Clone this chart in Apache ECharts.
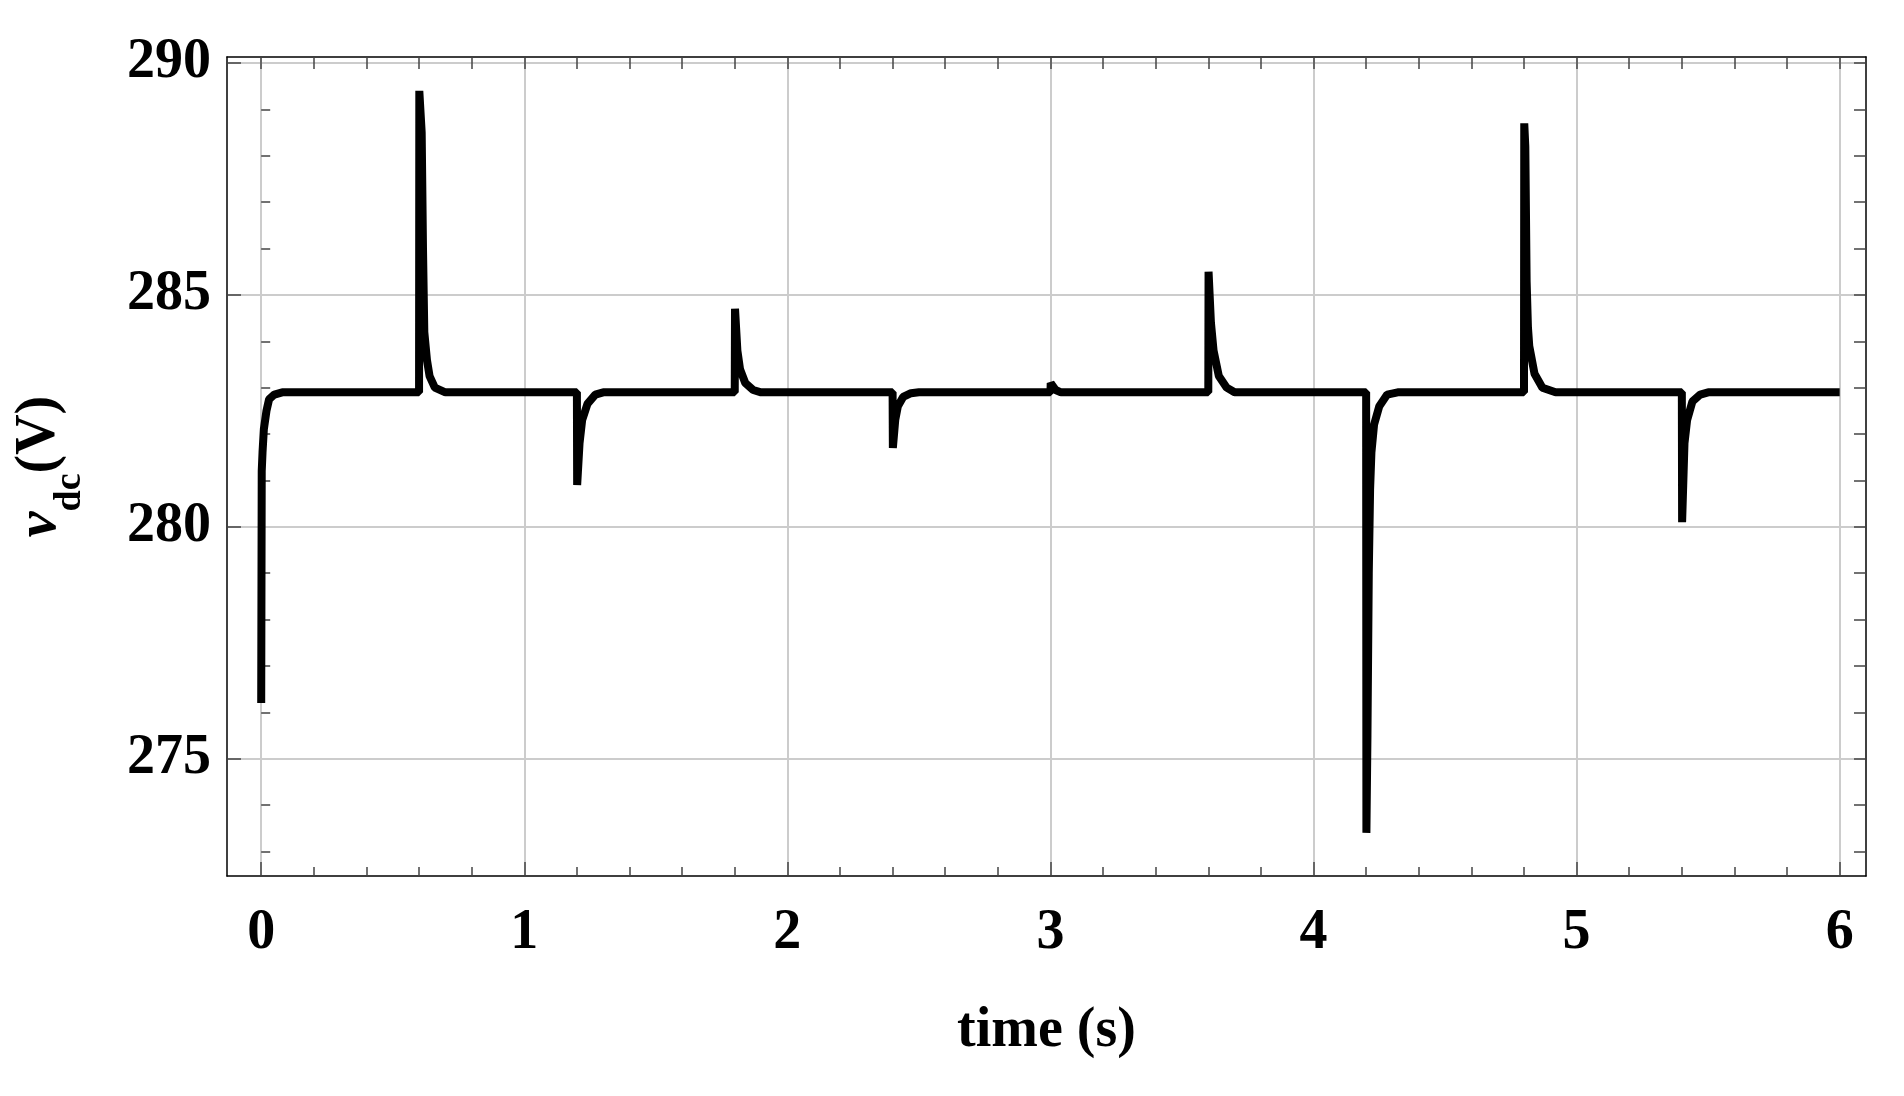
<!DOCTYPE html>
<html><head><meta charset="utf-8">
<script src="https://cdn.jsdelivr.net/npm/echarts@6/dist/echarts.min.js"></script>
<style>html,body{margin:0;padding:0;background:#fff}#c{width:1904px;height:1096px}</style>
</head><body><div id="c"></div>
<script>
const times = [0,0.002,0.005,0.01,0.02,0.03,0.05,0.08,0.6,0.601,0.605,0.61,0.615,0.62,0.63,0.64,0.66,0.7,
 1.2,1.201,1.21,1.22,1.24,1.27,1.3,1.8,1.801,1.81,1.82,1.84,1.87,1.9,
 2.4,2.401,2.41,2.42,2.44,2.47,2.5,3.0,3.001,3.02,3.04,3.6,3.601,3.61,3.62,3.64,3.67,3.7,
 4.2,4.201,4.205,4.21,4.215,4.22,4.23,4.25,4.28,4.32,4.8,4.801,4.805,4.81,4.815,4.82,4.84,4.87,4.92,
 5.4,5.401,5.41,5.42,5.44,5.47,5.5,6.0];
const vdc = [276.2,281.2,281.6,282.1,282.5,282.75,282.85,282.9,282.9,289.4,289.0,288.5,286.0,284.2,283.6,283.25,283.0,282.9,
 282.9,280.9,281.8,282.3,282.65,282.85,282.9,282.9,284.7,283.8,283.4,283.1,282.95,282.9,
 282.9,281.7,282.3,282.6,282.8,282.88,282.9,282.9,283.1,282.95,282.9,282.9,285.5,284.4,283.8,283.25,283.0,282.9,
 282.9,273.4,275.5,279.0,280.8,281.6,282.2,282.6,282.85,282.9,282.9,288.7,288.2,285.3,284.3,283.9,283.3,283.0,282.9,
 282.9,280.1,281.8,282.3,282.7,282.85,282.9,282.9];
const xTicks = [0,1,2,3,4,5,6];
const yTicks = [275,280,285,290];
const xAllTicks=[];for(let i=0;i<=30;i++)xAllTicks.push(+(i*0.2).toFixed(1));
const yAllTicks=[];for(let v=273;v<=290;v++)yAllTicks.push(v);
const data = times.map((t,i)=>[t,vdc[i]]);
const font = '"Liberation Serif","Times New Roman",serif';
const X0=-0.13,X1=6.1,Y0=272.47,Y1=290.13;
const tick=(vals,len)=>({show:true,inside:true,length:len,customValues:vals,lineStyle:{color:'#444',width:1.5}});
const line={show:true,onZero:false,lineStyle:{color:'#000',width:1.5}};
const grid={show:true,lineStyle:{color:'#cccccc',width:2}};
const lab={fontFamily:font,fontWeight:'bold',fontSize:56,color:'#000'};
const minorX=xAllTicks.filter(v=>!xTicks.includes(v));
const minorY=yAllTicks.filter(v=>!yTicks.includes(v));
const chart = echarts.init(document.getElementById('c'));
chart.setOption({
  animation:false,
  grid:{left:227,right:38,top:57,bottom:220},
  xAxis:[
   {type:'value',min:X0,max:X1,axisLine:line,axisTick:tick(xTicks,14),splitLine:grid,
    axisLabel:Object.assign({margin:30,customValues:xTicks,formatter:v=>String(v)},lab),
    name:'time (s)',nameLocation:'middle',nameGap:128,nameTextStyle:lab},
   {type:'value',position:'top',min:X0,max:X1,axisLine:line,axisTick:tick(xAllTicks,12),axisLabel:{show:false},splitLine:{show:false}},
   {type:'value',position:'bottom',min:X0,max:X1,axisLine:{show:false},axisTick:tick(minorX,9),axisLabel:{show:false},splitLine:{show:false}}
  ],
  yAxis:[
   {type:'value',min:Y0,max:Y1,axisLine:line,axisTick:tick(yTicks,14),splitLine:grid,
    axisLabel:Object.assign({margin:16,customValues:yTicks,formatter:v=>String(v)},lab),
    name:'{v|v}{s|dc}{p|(V)}',nameLocation:'middle',nameGap:158,nameRotate:90,
    nameTextStyle:{rich:{
      v:{fontFamily:font,fontWeight:'bold',fontStyle:'italic',fontSize:58,color:'#000'},
      s:{fontFamily:font,fontWeight:'bold',fontSize:38,color:'#000',verticalAlign:'bottom',padding:[0,0,-20,0]},
      p:{fontFamily:font,fontWeight:'bold',fontSize:56,color:'#000'}}}},
   {type:'value',position:'right',min:Y0,max:Y1,axisLine:line,axisTick:tick(yAllTicks,12),axisLabel:{show:false},splitLine:{show:false}},
   {type:'value',position:'left',min:Y0,max:Y1,axisLine:{show:false},axisTick:tick(minorY,9),axisLabel:{show:false},splitLine:{show:false}}
  ],
  series:[{type:'line',data:data,showSymbol:false,lineStyle:{color:'#000',width:8},clip:true}]
});
</script></body></html>
